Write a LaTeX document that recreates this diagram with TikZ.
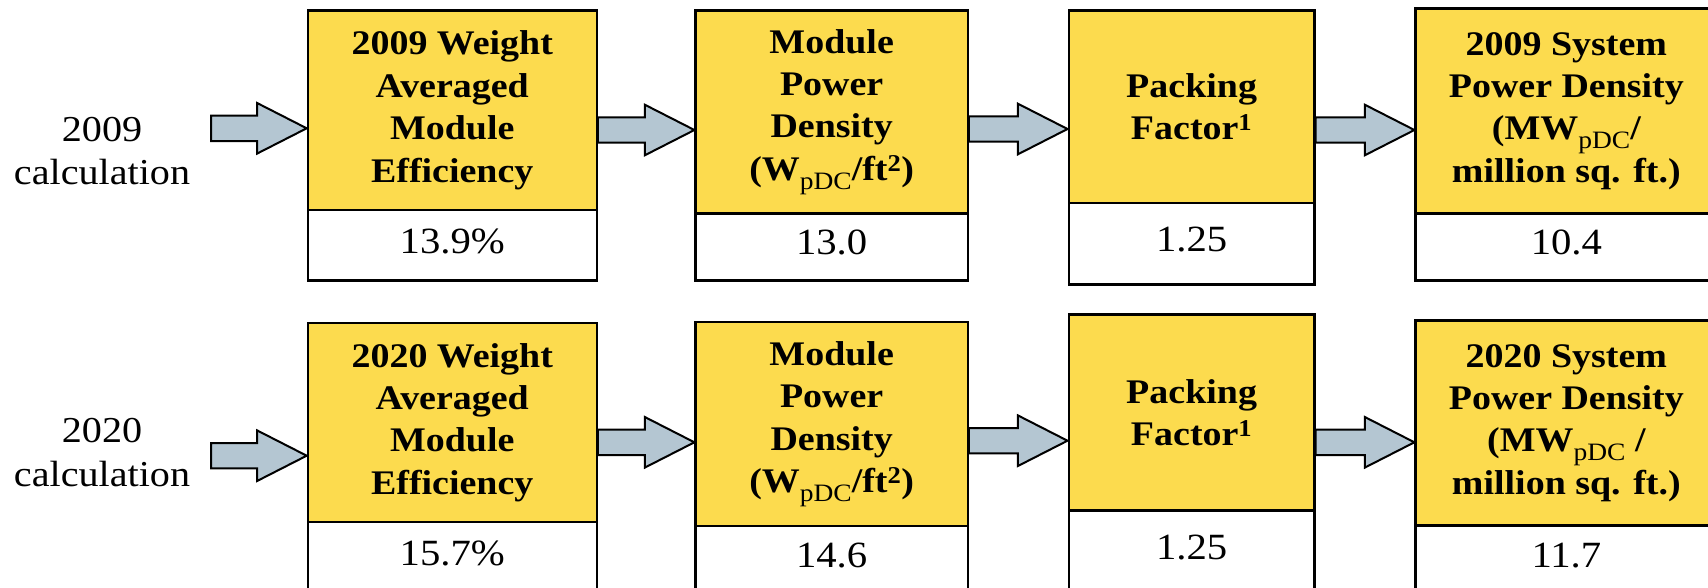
\documentclass[tikz,border=0pt]{standalone}
\usepackage{fontspec}
\setmainfont{Liberation Serif}[FakeStretch=1.1]
\usetikzlibrary{calc}

\definecolor{amarelo}{HTML}{FCDB4E}
\definecolor{azulseta}{HTML}{B4C6D2}

% seta larga entre dois pontos
\newcommand{\seta}[2]{%
  \draw[seta] ($(#1)+(0,-12.7)$) -- ($(#2)+(-49.6,-12.7)$) -- ($(#2)+(-49.6,-25.3)$) -- (#2)
    -- ($(#2)+(-49.6,25.3)$) -- ($(#2)+(-49.6,12.7)$) -- ($(#1)+(0,12.7)$) -- cycle;}
% indice pDC
\newcommand{\indice}[1]{\raisebox{-9pt}{\fontsize{25}{25}\selectfont\mdseries #1}}

\begin{document}
\begin{tikzpicture}[x=1pt, y=-1pt,
    cabeca/.style={draw, line width=2.3pt, fill=amarelo, inner sep=0pt, align=center, anchor=north west,
      font=\fontsize{34.5}{42.4}\selectfont\bfseries},
    valor/.style={draw, line width=2.3pt, fill=white, inner sep=0pt, anchor=north west, text depth=9pt,
      font=\fontsize{37}{42}\selectfont},
    rotulo/.style={align=center, font=\fontsize{36.5}{43.3}\selectfont},
    seta/.style={draw, line width=2pt, fill=azulseta, line join=miter}]
  \useasboundingbox (0,0) rectangle (1708,587);
  \clip (0,0) rectangle (1708,587);

  % Rotulos das linhas
  \node[rotulo] (r1) at (102,151) {2009\\calculation};
  \node[rotulo] (r2) at (102,452.5) {2020\\calculation};
  \coordinate (e1) at (211,128.3);
  \coordinate (e2) at (211,455.7);

  % Caixas: titulo e valor
  \foreach \nome/\esq/\dir/\topo/\meio/\base/\titulo/\num in {
    11/306.7/595.5/9.3/209/279.3/{2009 Weight\\Averaged\\Module\\Efficiency}/{13.9\%},
    12/694.4/966.6/9.3/212.3/279.3/{Module\\Power\\Density\\(W\indice{pDC}/ft\textsuperscript{2})}/{13.0},
    13/1067.5/1313.4/9.3/201.7/283.3/{Packing\\Factor\textsuperscript{1}}/{1.25},
    14/1414.4/1716/7.3/212.3/279.3/{2009 System\\Power Density\\(MW\indice{pDC}/\\million sq. ft.)}/{10.4},
    21/306.7/595.5/321.7/521/592/{2020 Weight\\Averaged\\Module\\Efficiency}/{15.7\%},
    22/694.4/966.6/321/525/592/{Module\\Power\\Density\\(W\indice{pDC}/ft\textsuperscript{2})}/{14.6},
    23/1067.5/1313.4/313.3/509.3/592/{Packing\\Factor\textsuperscript{1}}/{1.25},
    24/1414.4/1716/319.3/524.3/592/{2020 System\\Power Density\\(MW\indice{pDC} /\\million sq. ft.)}/{11.7}} {
    \node[cabeca, minimum width={\dir-\esq}, minimum height={\meio-\topo}] (c\nome) at (\esq,\topo) {\titulo};
    \node[valor, minimum width={\dir-\esq}, minimum height={\base-\meio}] (v\nome) at (\esq,\meio) {\num};
  }

  % Setas
  \foreach \de/\para/\alt in {e1/c11/128.3, c11.east/c12/130, c12.east/c13/129, c13.east/c14/130,
    e2/c21/455.7, c21.east/c22/442.3, c22.east/c23/440.7, c23.east/c24/442.3} {
    \coordinate (ini) at (\de |- 0,\alt);
    \coordinate (fim) at (\para.west |- 0,\alt);
    \seta{ini}{fim}
  }
\end{tikzpicture}
\end{document}
